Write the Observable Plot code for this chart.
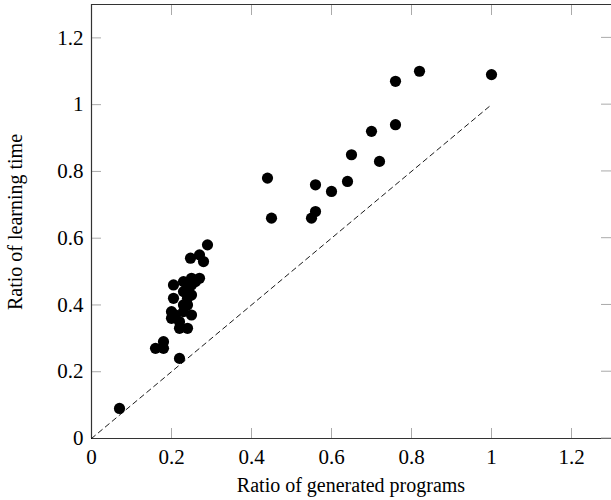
<!DOCTYPE html>
<html>
<head>
<meta charset="utf-8">
<script src="https://cdn.jsdelivr.net/npm/d3@7"></script>
<script src="https://cdn.jsdelivr.net/npm/@observablehq/plot@0.6"></script>
<style>
  body { margin: 0; background: #fff; overflow: hidden; }
  #chart svg { font-family: 'Liberation Serif', 'DejaVu Serif', serif; }
</style>
</head>
<body>
<div id="chart"></div>
<script>
const genRatio = [0.07, 0.16, 0.18, 0.18, 0.22,
  0.20, 0.20, 0.21, 0.205, 0.205, 0.22, 0.22, 0.23, 0.23, 0.23, 0.23, 0.24, 0.24, 0.24, 0.24,
  0.25, 0.25, 0.25, 0.25, 0.26, 0.27, 0.2475, 0.27, 0.28, 0.29,
  0.44, 0.45, 0.55, 0.56, 0.56, 0.60, 0.64, 0.65, 0.70, 0.72, 0.76, 0.76, 0.82, 1.00];
const timeRatio = [0.09, 0.27, 0.27, 0.29, 0.24,
  0.36, 0.38, 0.37, 0.42, 0.46, 0.33, 0.35, 0.38, 0.40, 0.44, 0.47, 0.33, 0.40, 0.42, 0.45,
  0.37, 0.43, 0.46, 0.48, 0.47, 0.48, 0.54, 0.55, 0.53, 0.58,
  0.78, 0.66, 0.66, 0.68, 0.76, 0.74, 0.77, 0.85, 0.92, 0.83, 0.94, 1.07, 1.10, 1.09];
const diagX = [0, 1];
const diagY = [0, 1];
const ticks = [0, 0.2, 0.4, 0.6, 0.8, 1, 1.2];
const domainMax = 1.3;

const points = genRatio.map((g, i) => ({g, t: timeRatio[i]}));
const diag = diagX.map((x, i) => ({x, y: diagY[i]}));

const fmt = d => String(+d.toFixed(1));
const serif = "'Liberation Serif', 'DejaVu Serif', serif";

const chart = Plot.plot({
  width: 611,
  height: 500,
  marginLeft: 91,
  marginRight: 0,
  marginTop: 4,
  marginBottom: 62,
  style: {fontSize: "15px", fontFamily: serif, color: "black", background: "white"},
  x: {domain: [0, domainMax]},
  y: {domain: [0, domainMax]},
  marks: [
    Plot.axisX(ticks, {anchor: "bottom", tickSize: -10, stroke: "#aaa", tickFormat: fmt, tickPadding: 21, label: null, fill: "black", fontSize: 21}),
    Plot.axisX(ticks, {anchor: "top", tickSize: -10, stroke: "#aaa", tickFormat: () => "", label: null}),
    Plot.axisY(ticks, {anchor: "left", tickSize: -10, stroke: "#aaa", tickFormat: fmt, tickPadding: 18, label: null, fill: "black", fontSize: 21}),
    Plot.ruleX([0], {stroke: "#333", strokeWidth: 1.2}),
    Plot.ruleY([0, domainMax], {stroke: "#333", strokeWidth: 1.2}),
    Plot.line(diag, {x: "x", y: "y", stroke: "black", strokeWidth: 0.9, strokeDasharray: "5,4"}),
    Plot.dot(points, {x: "g", y: "t", r: 5.6, fill: "black", stroke: "none"})
  ]
});

const svg = d3.select(chart);
// right-side inner ticks, positioned through Plot's scales
const yScale = chart.scale("y");
const xScale = chart.scale("x");
const xr = xScale.apply(domainMax);
svg.append("g").selectAll("line").data(ticks).join("line")
  .attr("x1", xr - 10).attr("x2", xr)
  .attr("y1", d => yScale.apply(d)).attr("y2", d => yScale.apply(d))
  .attr("stroke", "#aaa");

svg.append("text")
  .attr("x", 351).attr("y", 492)
  .attr("text-anchor", "middle")
  .attr("font-family", serif)
  .attr("font-size", 20).attr("fill", "black")
  .text("Ratio of generated programs");
svg.append("text")
  .attr("transform", "translate(22,222) rotate(-90)")
  .attr("text-anchor", "middle")
  .attr("font-family", serif)
  .attr("font-size", 20).attr("fill", "black")
  .text("Ratio of learning time");

document.getElementById("chart").appendChild(chart);
</script>
</body>
</html>
